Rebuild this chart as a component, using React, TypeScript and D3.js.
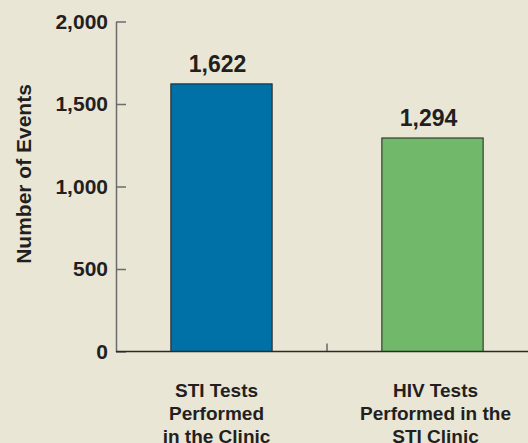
import React, { useEffect, useRef } from 'react';
import * as d3 from 'd3';

// chart data
const categories = ['STI Tests Performed in the Clinic', 'HIV Tests Performed in the STI Clinic'];
const categoryLines = [
  ['STI Tests', 'Performed', 'in the Clinic'],
  ['HIV Tests', 'Performed in the', 'STI Clinic'],
];
const values = [1622, 1294];
const barColors = ['#0071a6', '#72b86b'];
const yTicks = [0, 500, 1000, 1500, 2000];
const yTitle = 'Number of Events';

export default function App() {
  const ref = useRef<SVGSVGElement>(null);

  useEffect(() => {
    const width = 528;
    const height = 443;
    const font = '"Liberation Sans", Arial, sans-serif';
    const ink = '#231f20';

    const svg = d3.select(ref.current);
    svg.selectAll('*').remove();

    svg.append('rect')
      .attr('width', width)
      .attr('height', height)
      .attr('fill', '#e9e6d5');

    const x = d3.scaleBand<string>()
      .domain(categories)
      .range([116, 538])
      .paddingInner(0.52)
      .paddingOuter(0.26);

    const y = d3.scaleLinear()
      .domain([0, 2000])
      .range([351.5, 21.5]);

    // y axis, ticks point inward
    const yAxis = d3.axisLeft(y)
      .tickValues(yTicks)
      .tickFormat(d3.format(','))
      .tickSizeInner(-10)
      .tickSizeOuter(0)
      .tickPadding(8);

    const gy = svg.append('g')
      .attr('transform', 'translate(116,0)')
      .call(yAxis);
    gy.select('.domain').attr('stroke', '#6b6b6b').attr('stroke-width', 1.5);
    gy.selectAll('.tick line').attr('stroke', '#6b6b6b').attr('stroke-width', 1.5);
    gy.selectAll('.tick text')
      .attr('fill', ink)
      .attr('font-family', font)
      .attr('font-weight', 'bold')
      .attr('font-size', 21);

    // bars
    svg.selectAll('.bar')
      .data(values)
      .enter()
      .append('rect')
      .attr('class', 'bar')
      .attr('x', (d, i) => x(categories[i])!)
      .attr('y', d => y(d))
      .attr('width', x.bandwidth())
      .attr('height', d => y(0) - y(d))
      .attr('fill', (d, i) => barColors[i])
      .attr('stroke', ink)
      .attr('stroke-width', 1);

    // value labels
    svg.selectAll('.val')
      .data(values)
      .enter()
      .append('text')
      .attr('class', 'val')
      .attr('x', (d, i) => x(categories[i])! + x.bandwidth() / 2 - 4)
      .attr('y', d => y(d) - 12)
      .attr('text-anchor', 'middle')
      .attr('font-family', font)
      .attr('font-weight', 'bold')
      .attr('font-size', 23)
      .attr('fill', ink)
      .text(d => d3.format(',')(d));

    // x axis
    svg.append('line')
      .attr('x1', 116)
      .attr('x2', width)
      .attr('y1', y(0))
      .attr('y2', y(0))
      .attr('stroke', '#2a2a2a')
      .attr('stroke-width', 1.5);

    const mid = (x(categories[0])! + x.bandwidth() + x(categories[1])!) / 2;
    svg.append('line')
      .attr('x1', mid)
      .attr('x2', mid)
      .attr('y1', y(0))
      .attr('y2', y(0) - 8)
      .attr('stroke', '#2a2a2a')
      .attr('stroke-width', 1);

    // category labels
    const cats = svg.selectAll('.cat')
      .data(categoryLines)
      .enter()
      .append('text')
      .attr('class', 'cat')
      .attr('text-anchor', 'middle')
      .attr('font-family', font)
      .attr('font-weight', 'bold')
      .attr('font-size', 19)
      .attr('fill', ink);

    cats.each(function (lines, i) {
      const cx = x(categories[i])! + x.bandwidth() / 2 + (i === 0 ? -5 : 3);
      d3.select(this).selectAll('tspan')
        .data(lines)
        .enter()
        .append('tspan')
        .attr('x', cx)
        .attr('y', (d, j) => 397 + j * 23)
        .text(d => d);
    });

    // y title
    svg.append('text')
      .attr('transform', 'translate(31,174) rotate(-90)')
      .attr('text-anchor', 'middle')
      .attr('font-family', font)
      .attr('font-weight', 'bold')
      .attr('font-size', 21)
      .attr('fill', ink)
      .text(yTitle);
  }, []);

  return (
    <div>
      <style>{'body{margin:0}'}</style>
      <svg ref={ref} width={528} height={443} style={{ display: 'block' }}></svg>
    </div>
  );
}
